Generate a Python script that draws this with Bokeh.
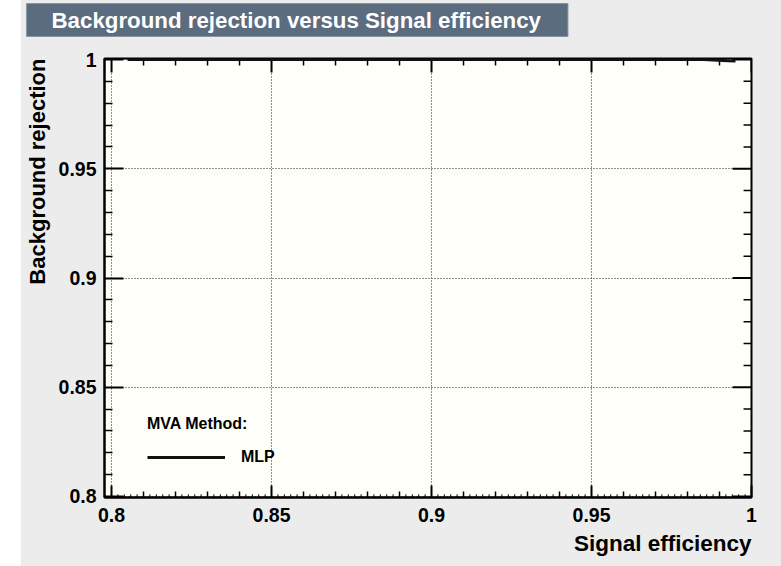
import numpy as np
from bokeh.plotting import figure
from bokeh.models import (FixedTicker, Legend, LegendItem, Range1d, Spacer, Title)
from bokeh.layouts import row
from bokeh.embed import file_html
from bokeh.resources import INLINE

# ROC curve of the MLP classifier: background rejection vs signal efficiency
sig_eff = [0.805, 0.815, 0.825, 0.835, 0.845, 0.855, 0.865, 0.875, 0.885, 0.895,
           0.905, 0.915, 0.925, 0.935, 0.945, 0.955, 0.965, 0.975, 0.985, 0.9925, 0.995]
bkg_rej = [1.0, 1.0, 1.0, 1.0, 1.0, 1.0, 1.0, 1.0, 1.0, 1.0,
           1.0, 1.0, 1.0, 1.0, 1.0, 1.0, 1.0, 1.0, 1.0, 0.9994, 0.9993]
method_name = "MLP"

x_major = [0.8, 0.85, 0.9, 0.95, 1.0]
x_tick_labels = ["0.8", "0.85", "0.9", "0.95", "1"]
y_major = [0.8, 0.85, 0.9, 0.95, 1.0]
y_tick_labels = ["0.8", "0.85", "0.9", "0.95", "1"]

FONT = "Liberation Sans"

# axis ranges and frame geometry (pixels)
X0, X1 = 0.7978, 1.0
Y0, Y1 = 0.79954, 1.00046
OFFSET = 20                     # white strip left of the canvas
LIFT = 18                       # canvas is shifted up by this much
FL, FW = 101, 650               # frame left / width (page pixels)
FT, FH = 58, 439                # frame top / height (page pixels)
PX = (X1 - X0) / FW             # data units per pixel, x
PY = (Y1 - Y0) / FH             # data units per pixel, y
H = 566 + LIFT

p = figure(width=761, height=H,
           title="Background rejection versus Signal efficiency",
           x_range=Range1d(X0, X1), y_range=Range1d(Y0, Y1),
           output_backend="svg", toolbar_location=None,
           min_border_left=FL - OFFSET, min_border_right=761 - (FL - OFFSET) - FW,
           min_border_top=FT + LIFT, min_border_bottom=H - FT - LIFT - FH,
           background_fill_color="#fffffa", border_fill_color="#ececec",
           outline_line_color="black", outline_line_width=2)
p.margin = (-LIFT, 0, 0, 0)

minor01 = [round(v, 3) for v in np.arange(0.80, 1.0001, 0.01) if round(v, 3) not in x_major]
tiny = [round(v, 3) for v in np.arange(0.80, 1.0001, 0.002)]


def style_axis(ax, major_in, minor_in):
    ax.axis_line_width = 2
    ax.axis_line_color = "black"
    ax.major_tick_in = major_in
    ax.major_tick_out = 0
    ax.minor_tick_in = minor_in
    ax.minor_tick_out = 0
    ax.major_tick_line_width = 2
    ax.minor_tick_line_width = 1.5
    ax.major_tick_line_color = "black"
    ax.minor_tick_line_color = "black"
    ax.major_label_text_font = FONT
    ax.major_label_text_font_style = "bold"
    ax.major_label_text_font_size = "19.5px"
    ax.major_label_text_color = "black"


xa = p.below[0]
xa.ticker = FixedTicker(ticks=x_major, minor_ticks=minor01)
xa.major_label_overrides = dict(zip(x_major, x_tick_labels))
style_axis(xa, 12, 6)
xa.major_label_standoff = 10

ya = p.left[0]
ya.ticker = FixedTicker(ticks=y_major, minor_ticks=minor01)
ya.major_label_overrides = dict(zip(y_major, y_tick_labels))
style_axis(ya, 19, 8)
ya.major_label_standoff = 8

for g in (p.xgrid[0], p.ygrid[0]):
    g.grid_line_color = "#222222"
    g.grid_line_dash = "1 2"
    g.grid_line_width = 1
p.xgrid[0].ticker = FixedTicker(ticks=x_major)
p.ygrid[0].ticker = FixedTicker(ticks=y_major)

# fine ticks along the bottom edge
p.segment(x0=tiny, y0=[Y0] * len(tiny), x1=tiny, y1=[Y0 + 3.2 * PY] * len(tiny),
          line_color="black", line_width=1)
# ticks along the top edge (pointing down)
p.segment(x0=x_major, y0=[Y1] * 5, x1=x_major, y1=[Y1 - 14 * PY] * 5,
          line_color="black", line_width=2)
p.segment(x0=minor01, y0=[Y1] * len(minor01), x1=minor01, y1=[Y1 - 7 * PY] * len(minor01),
          line_color="black", line_width=1.5)
# ticks along the right edge (pointing left)
p.segment(x0=[X1] * 5, y0=y_major, x1=[X1 - 19 * PX] * 5, y1=y_major,
          line_color="black", line_width=2)
p.segment(x0=[X1] * len(minor01), y0=minor01, x1=[X1 - 8 * PX] * len(minor01), y1=minor01,
          line_color="black", line_width=1.5)

roc = p.line(sig_eff, bkg_rej, line_color="#111111", line_width=3)

legend = Legend(items=[LegendItem(label=method_name, renderers=[roc])],
                title="MVA Method:", location=(43, 30),
                background_fill_alpha=0, border_line_color=None,
                title_text_font=FONT, title_text_font_style="bold",
                title_text_font_size="16px", title_standoff=14, title_text_color="black",
                label_text_font=FONT, label_text_font_style="bold",
                label_text_font_size="16px", label_text_color="black",
                glyph_width=78, glyph_height=20, label_standoff=16,
                padding=4, margin=0, spacing=0)
p.add_layout(legend)

# title box
p.title.align = "left"
p.title.offset = -78
p.title.vertical_align = "top"
p.title.standoff = 40
p.title.text_color = "white"
p.title.text_font = FONT
p.title.text_font_style = "bold"
p.title.text_font_size = "22.3px"
p.title.background_fill_color = "#5b6c7f"
p.title.border_line_color = "#8796a5"
p.title.padding = dict(left=25, right=27, top=4, bottom=4)

p.add_layout(Title(text="Signal efficiency", align="right", text_color="black",
                   text_font=FONT, text_font_style="bold", text_font_size="22.5px",
                   standoff=8),
             "below")
p.add_layout(Title(text="Background rejection", align="right", text_color="black",
                   text_font=FONT, text_font_style="bold", text_font_size="22px",
                   vertical_align="top", standoff=8),
             "left")

layout = row(Spacer(width=OFFSET, height=566), p)

open("out.html", "w").write(file_html(layout, INLINE))
